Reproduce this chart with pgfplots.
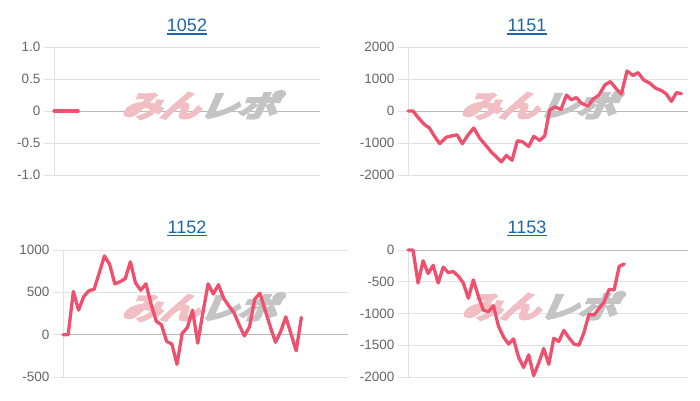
\documentclass[border=0pt]{standalone}
\usepackage{pgfplots}
\pgfplotsset{compat=1.18}
\usepackage{fontspec}
\setmainfont{Liberation Sans}
\newfontfamily\cjk[FakeBold=12]{Noto Sans CJK JP}
\definecolor{linec}{RGB}{238,80,110}
\definecolor{titlec}{RGB}{32,101,168}
\definecolor{tickc}{RGB}{102,102,102}
\definecolor{gridc}{RGB}{226,226,226}
\definecolor{zeroc}{RGB}{185,185,185}
\definecolor{wmpink}{RGB}{240,190,195}
\definecolor{wmgray}{RGB}{196,196,196}

\pgfplotsset{
  panel/.style={
    scale only axis, anchor=south west,
    xmin=0, xmax=55,
    axis x line=none, axis y line=left,
    y axis line style={-, draw=gridc, line width=1pt},
    xtick=\empty,
    ymajorgrids, grid style={draw=gridc, line width=1pt},
    tick align=outside, major tick length=10pt,
    ytick style={draw=gridc, line width=1pt},
    yticklabel style={font=\fontsize{13.5}{16}\selectfont, text=tickc},
    extra y ticks={0}, extra y tick labels={},
    extra y tick style={grid style={draw=zeroc, line width=1pt}, major tick length=0pt},
    clip=false,
  },
  ser/.style={draw=linec, line width=3.3pt, line join=round, line cap=round, mark=none},
}
\newcommand\wm{\node[font=\cjk\fontsize{31}{31}\selectfont, xscale=1.25, yscale=0.95, xslant=0.35, inner sep=0pt]}
\newcommand\wmtext{\textcolor{wmpink}{みん}\textcolor{wmgray}{レポ}}

\begin{document}
\begin{tikzpicture}
\path[use as bounding box] (0pt,0pt) rectangle (700pt,400pt);

% 1052
\begin{axis}[panel, at={(54pt,225pt)}, width=266pt, height=128pt,
  ymin=-1, ymax=1, ytick={-1,-0.5,0,0.5,1},
  yticklabels={-1.0,-0.5,0,0.5,1.0}]
\wm at (rel axis cs:0.564,0.547) {\wmtext};
\addplot[ser] coordinates {(0,0)(1,0)(2,0)(3,0)(4,0)(5,0)};
\end{axis}

% 1151
\begin{axis}[panel, at={(408pt,225pt)}, width=280pt, height=128pt,
  ymin=-2000, ymax=2000, ytick={-2000,-1000,0,1000,2000},
  yticklabels={-2000,-1000,0,1000,2000}]
\wm at (rel axis cs:0.482,0.547) {\wmtext};
\addplot[ser] coordinates {
(0,0)(0.98,0)(1.96,-200)(3.21,-420)(4.19,-530)(5.24,-800)(6.22,-1020)
(7.53,-820)(8.51,-780)(9.63,-745)(10.67,-1020)(11.79,-750)(12.90,-530)
(14.08,-850)(15.39,-1095)(16.37,-1285)(17.35,-1430)(18.34,-1590)(19.32,-1390)
(20.43,-1540)(21.48,-930)(22.46,-960)(23.71,-1110)(24.69,-790)(25.87,-920)
(26.85,-780)(27.83,30)(28.82,125)(30.06,50)(31.11,500)(32.09,350)(33.08,420)
(34.06,240)(35.37,155)(36.35,370)(37.52,500)(38.64,810)(39.75,920)(40.80,710)
(41.91,530)(43.02,1250)(44.20,1110)(45.18,1200)(46.30,970)(47.48,870)
(48.66,710)(49.77,640)(50.75,530)(51.74,300)(52.72,575)(53.70,540)};
\end{axis}

% 1152
\begin{axis}[panel, at={(63pt,23pt)}, width=285pt, height=127pt,
  ymin=-500, ymax=1000, ytick={-500,0,500,1000},
  yticklabels={-500,0,500,1000}]
\wm at (rel axis cs:0.495,0.551) {\wmtext};
\addplot[ser] coordinates {
(0,0)(1,0)(2,510)(3,290)(4,450)(5,520)(6,535)(7,730)(8,930)(9,830)
(10,600)(11,625)(12,660)(13,860)(14,610)(15,525)(16,600)(17,360)(18,160)
(19,115)(20,-80)(21,-110)(22,-350)(23,15)(24,85)(25,290)(26,-100)(27,260)
(28,600)(29,480)(30,590)(31,430)(32,340)(33,260)(34,115)(35,-15)(36,95)
(37,420)(38,490)(39,290)(40,95)(41,-90)(42,35)(43,210)(44,10)(45,-190)(46,205)};
\end{axis}

% 1153
\begin{axis}[panel, at={(408pt,23pt)}, width=280pt, height=127pt, xmax=55.7,
  ymin=-2000, ymax=0, ytick={-2000,-1500,-1000,-500,0},
  yticklabels={-2000,-1500,-1000,-500,0}]
\wm at (rel axis cs:0.486,0.56) {\wmtext};
\addplot[ser] coordinates {
(0,0)(1,0)(2,-520)(3,-170)(4,-370)(5,-240)(6,-520)(7,-270)(8,-355)(9,-340)
(10,-410)(11,-520)(12,-760)(13,-470)(14,-730)(15,-950)(16,-970)(17,-880)
(18,-1200)(19,-1370)(20,-1480)(21,-1400)(22,-1690)(23,-1850)(24,-1650)
(25,-1980)(26,-1780)(27,-1550)(28,-1800)(29,-1390)(30,-1440)(31,-1265)
(32,-1380)(33,-1480)(34,-1500)(35,-1300)(36,-1010)(37,-1025)(38,-920)
(39,-820)(40,-620)(41,-630)(42,-260)(43,-220)};
\end{axis}

% titles
\begin{scope}[every node/.style={inner sep=0pt, anchor=base, text=titlec, font=\fontsize{18}{20}\selectfont}]
\node (t1) at (187pt,368pt) {1052};
\node (t2) at (527pt,368pt) {1151};
\node (t3) at (187pt,167pt) {1152};
\node (t4) at (527pt,167pt) {1153};
\end{scope}
\foreach \t in {t1,t2,t3,t4}{
  \draw[titlec, line width=1.4pt] ([yshift=-2.2pt]\t.base west) -- ([yshift=-2.2pt]\t.base east);
}
\end{tikzpicture}
\end{document}
